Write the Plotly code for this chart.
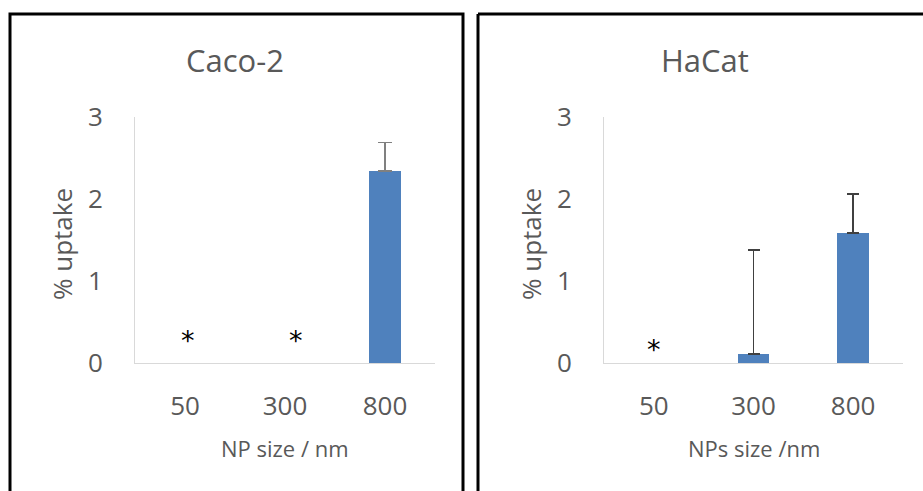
import plotly.graph_objects as go

# ---- data ----
sizes = ["50", "300", "800"]
caco2_uptake = [None, None, 2.34]
caco2_err_plus = [0, 0, 0.35]
hacat_uptake = [None, 0.11, 1.59]
hacat_err_plus = [0, 1.27, 0.47]
caco2_sig = ["*", "*", ""]
hacat_sig = ["*", "", ""]
y_ticks = [0, 1, 2, 3]

W, H = 923, 491
FONT = "Open Sans"
GREY = "#595959"
BAR = "#4f81bd"


def px(x):
    return x / W


def py(y):
    return 1 - y / H


fig = go.Figure()
fig.add_trace(go.Bar(
    x=sizes, y=caco2_uptake, xaxis="x", yaxis="y", marker_color=BAR, width=0.32,
    marker_line_width=0,
    error_y=dict(type="data", symmetric=False, array=caco2_err_plus,
                 arrayminus=[0] * 3, color="#808080", thickness=1.8, width=7),
    showlegend=False, hoverinfo="x+y"))
fig.add_trace(go.Bar(
    x=sizes, y=hacat_uptake, xaxis="x2", yaxis="y2", marker_color=BAR, width=0.32,
    marker_line_width=0,
    error_y=dict(type="data", symmetric=False, array=hacat_err_plus,
                 arrayminus=[0] * 3, color="#404040", thickness=1.8, width=6),
    showlegend=False, hoverinfo="x+y"))

ydom = [py(363), py(117)]
axis_common = dict(showline=True, linecolor="#d9d9d9", linewidth=1, showgrid=False,
                   zeroline=False, ticks="", automargin=False,
                   tickfont=dict(family=FONT, size=26, color=GREY))
fig.update_layout(
    width=W, height=H, margin=dict(l=0, r=0, t=0, b=0, autoexpand=False),
    paper_bgcolor="white", plot_bgcolor="white", bargap=0,
    xaxis=dict(domain=[px(135), px(435)], anchor="y", type="category",
               range=[-0.5, 2.5], ticklabelstandoff=20, **axis_common),
    yaxis=dict(domain=ydom, anchor="x", range=[0, 3], tickvals=y_ticks,
               ticklabelstandoff=26, **axis_common),
    xaxis2=dict(domain=[px(604), px(903)], anchor="y2", type="category",
                range=[-0.5, 2.5], ticklabelstandoff=20, **axis_common),
    yaxis2=dict(domain=ydom, anchor="x2", range=[0, 3], tickvals=y_ticks,
                ticklabelstandoff=26, **axis_common),
)

anns = []


def txt(text, x, y, size, angle=0):
    anns.append(dict(text=text, x=px(x), y=py(y), xref="paper", yref="paper",
                     showarrow=False, textangle=angle, xanchor="center", yanchor="middle",
                     font=dict(family=FONT, size=size, color=GREY)))


txt("Caco-2", 235, 60, 31)
txt("HaCat", 705, 60, 31)
txt("NP size / nm", 285, 448, 22)
txt("NPs size /nm", 754, 448, 22)
txt("% uptake", 62, 244, 26, -90)
txt("% uptake", 531, 244, 26, -90)

shifts = [3, 11, 0]
for i, s in enumerate(caco2_sig):
    if s:
        anns.append(dict(text=s, x=i, y=0.28, xref="x", yref="y", showarrow=False,
                         xshift=shifts[i], font=dict(family="DejaVu Sans", size=27, color="black")))
for i, s in enumerate(hacat_sig):
    if s:
        anns.append(dict(text=s, x=i, y=0.16, xref="x2", yref="y2", showarrow=False,
                         font=dict(family="DejaVu Sans", size=27, color="black")))
fig.update_layout(annotations=anns)

BORDER = dict(color="black", width=3)
fig.update_layout(shapes=[
    dict(type="rect", xref="paper", yref="paper", x0=px(10), x1=px(463), y0=-0.2, y1=py(14),
         line=BORDER),
    dict(type="line", xref="paper", yref="paper", x0=px(478), x1=px(478), y0=-0.2, y1=py(14),
         line=BORDER),
    dict(type="line", xref="paper", yref="paper", x0=px(478), x1=1.05, y0=py(14), y1=py(14),
         line=BORDER),
])

fig.write_html("out.html", config={"displayModeBar": False},
               post_script="document.body.style.margin='0';document.body.style.overflow='hidden';")
